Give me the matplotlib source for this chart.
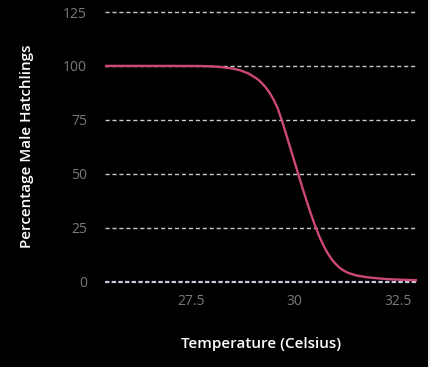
import matplotlib
matplotlib.use("Agg")
import matplotlib.pyplot as plt
from matplotlib.patches import Rectangle

# Values
temperature = [25.42, 26.5, 27.0, 27.7, 28.0, 28.2, 28.5, 28.7, 28.9, 29.1,
               29.2, 29.3, 29.4, 29.5, 29.6, 29.7, 29.8, 29.9, 30.0, 30.1,
               30.2, 30.3, 30.4, 30.5, 30.6, 30.7, 30.8, 30.9, 31.0, 31.1,
               31.2, 31.3, 31.5, 31.75, 32.0, 32.25, 32.6, 32.96]
pct_male = [100.0, 100.0, 100.0, 99.95, 99.8, 99.5, 98.8, 97.9, 96.4, 94.0,
            92.3, 90.2, 87.6, 84.3, 80.2, 74.6, 68.4, 62.1, 55.8, 49.5,
            43.2, 37.2, 31.4, 26.0, 21.1, 16.9, 13.3, 10.4, 8.1, 6.3,
            5.0, 4.0, 2.8, 2.0, 1.5, 1.1, 0.8, 0.6]

x_ticks = [27.5, 30, 32.5]
x_tick_labels = ["27.5", "30", "32.5"]
y_ticks = [0, 25, 50, 75, 100, 125]
y_tick_labels = ["0", "25", "50", "75", "100", "125"]

plt.rcParams['font.family'] = ['Open Sans', 'DejaVu Sans']

fig = plt.figure(figsize=(4.31, 3.67), dpi=100, facecolor='black')
W, H = 431, 367
left, right, top, bottom = 105, 416.7, 12, 281.5
ax = fig.add_axes([left / W, (H - bottom) / H, (right - left) / W, (bottom - top) / H])
ax.set_facecolor('black')

# light strip at the right edge of the picture
fig.patches.append(Rectangle((428 / W, 0), 3 / W, 1, transform=fig.transFigure,
                             facecolor='#e6eeee', edgecolor='none'))

ax.set_xlim(25.42, 32.96)
ax.set_ylim(0, 125)

for yv in y_ticks:
    if yv == 0:
        ax.axhline(yv, color='#c4c8d8', lw=1.6, ls=(0, (2, 1)), clip_on=False, zorder=1)
    else:
        ax.axhline(yv, color='#c8c8c8', lw=1.0, ls=(0, (3, 2)), clip_on=False, zorder=1)

ax.plot(temperature, pct_male, color='#cc4a72', lw=1.7, zorder=3,
        solid_capstyle='round', solid_joinstyle='round')

for s in ax.spines.values():
    s.set_visible(False)

ax.set_xticks(x_ticks)
ax.set_xticklabels(x_tick_labels)
ax.set_yticks(y_ticks)
ax.set_yticklabels(y_tick_labels)
ax.tick_params(axis='both', length=0, colors='#7a7a7a', labelsize=10)
ax.tick_params(axis='x', pad=9)
ax.tick_params(axis='y', pad=13)

ax.set_xlabel('Temperature (Celsius)', color='white', fontsize=11, fontweight='semibold')
ax.set_ylabel('Percentage Male Hatchlings', color='white', fontsize=11, fontweight='semibold')
ax.xaxis.set_label_coords(0.5, (bottom - 344) / (bottom - top))
ax.xaxis.label.set_va('center')
ax.yaxis.set_label_coords((27 - left) / (right - left), 0.5)
ax.yaxis.label.set_va('center')

fig.savefig('out.png', dpi=100, facecolor='black')
